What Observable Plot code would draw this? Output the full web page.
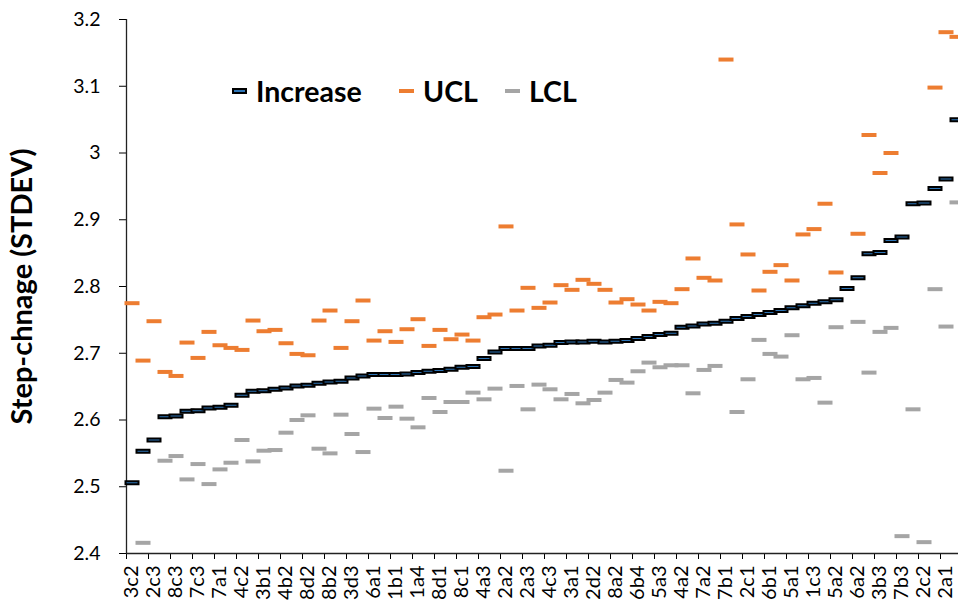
<!DOCTYPE html>
<html>
<head>
<meta charset="utf-8">
<script src="https://cdn.jsdelivr.net/npm/d3@7"></script>
<script src="https://cdn.jsdelivr.net/npm/@observablehq/plot@0.6"></script>
<style>
  html, body { margin: 0; padding: 0; background: #fff; overflow: hidden; }
  #chart { position: relative; width: 958px; height: 609px; overflow: hidden; }
  #legend { position: absolute; left: 0; top: 0; font-family: Lato, sans-serif; font-weight: bold; font-size: 28.5px; color: #000; }
  #legend .item { position: absolute; display: flex; align-items: center; white-space: nowrap; line-height: 1; }
  #legend .sw { display: inline-block; width: 15px; height: 4px; margin-right: 9px; box-sizing: border-box; }
</style>
</head>
<body>
<div id="chart"></div>
<script>
// Every other category is labelled on the x axis
const labels = ["3c2","2c3","8c3","7c3","7a1","4c2","3b1","4b2","8d2","8b2","3d3","6a1","1b1",
  "1a4","8d1","8c1","4a3","2a2","2a3","4c3","3a1","2d2","8a2","6b4","5a3","4a2","7a2","7b1",
  "2c1","6b1","5a1","1c3","5a2","6a2","3b3","7b3","2c2","2a1"];

// Step-change increase per category, sorted ascending
const increase = [2.506,2.553,2.570,2.605,2.606,2.613,2.614,2.618,2.619,2.622,
  2.637,2.643,2.644,2.646,2.648,2.651,2.652,2.655,2.657,2.658,
  2.663,2.666,2.668,2.668,2.668,2.669,2.671,2.673,2.674,2.676,
  2.679,2.680,2.692,2.702,2.707,2.707,2.707,2.711,2.712,2.716,
  2.717,2.717,2.718,2.717,2.718,2.719,2.722,2.725,2.728,2.730,
  2.739,2.741,2.744,2.745,2.748,2.752,2.755,2.758,2.761,2.764,
  2.768,2.771,2.775,2.777,2.780,2.797,2.813,2.849,2.851,2.869,
  2.874,2.924,2.925,2.947,2.961,3.050];

// Upper control limit (null where it lies above the axis range)
const ucl = [2.775,2.689,2.748,2.672,2.666,2.716,2.693,2.732,2.712,2.708,
  2.705,2.749,2.733,2.735,2.715,2.699,2.697,2.749,2.764,2.708,
  2.748,2.779,2.719,2.733,2.717,2.736,2.751,2.711,2.735,2.721,
  2.728,2.719,2.754,2.758,2.890,2.764,2.798,2.768,2.776,2.802,
  2.795,2.810,2.804,2.795,2.776,2.781,2.773,2.764,2.777,2.775,
  2.796,2.842,2.813,2.809,3.140,2.893,2.848,2.794,2.822,2.832,
  2.809,2.878,2.886,2.924,2.821,null,2.879,3.027,2.970,3.000,
  null,null,null,3.098,3.181,3.174];

// Lower control limit (null where it lies below the axis range)
const lcl = [null,2.416,null,2.539,2.546,2.511,2.534,2.504,2.526,2.536,
  2.570,2.538,2.554,2.555,2.581,2.600,2.607,2.557,2.550,2.608,
  2.579,2.552,2.617,2.603,2.620,2.602,2.589,2.633,2.612,2.627,
  2.627,2.641,2.631,2.647,2.524,2.651,2.616,2.653,2.646,2.631,
  2.639,2.625,2.630,2.641,2.660,2.656,2.673,2.686,2.679,2.682,
  2.682,2.640,2.675,2.681,null,2.612,2.661,2.720,2.699,2.695,
  2.727,2.661,2.663,2.626,2.739,null,2.747,2.671,2.732,2.738,
  2.426,2.616,2.417,2.796,2.740,2.926];

const yTicks = [2.4, 2.5, 2.6, 2.7, 2.8, 2.9, 3.0, 3.1, 3.2];
const yTitle = "Step-chnage (STDEV)";

const series = [
  {name: "Increase", fill: "#2e75b6", stroke: "#000"},
  {name: "UCL", fill: "#ed7d31", stroke: null},
  {name: "LCL", fill: "#a5a5a5", stroke: null}
];

const rows = increase.map((v, i) => ({i, inc: v, ucl: ucl[i], lcl: lcl[i]}));
const n = increase.length;
const even = d3.range(0, n, 2);

// Flat "dash" marker, drawn as a small rectangle centred on the point
const dash = (w, h) => ({
  draw(ctx) {
    ctx.moveTo(-w / 2, -h / 2);
    ctx.lineTo(w / 2, -h / 2);
    ctx.lineTo(w / 2, h / 2);
    ctx.lineTo(-w / 2, h / 2);
    ctx.closePath();
  }
});

const step = 11;          // pixels per category
const left = 126;         // left edge of the plotting area

const chart = Plot.plot({
  width: 958,
  height: 609,
  marginLeft: left,
  marginRight: 0,
  marginTop: 19,
  marginBottom: 56,
  style: {fontFamily: "Lato, sans-serif", fontSize: "19px", color: "#000", background: "#fff", overflow: "hidden"},
  x: {type: "linear", domain: [0, n], range: [left, left + n * step]},
  y: {domain: [2.4, 3.2]},
  marks: [
    Plot.axisY({ticks: yTicks, tickSize: 7, tickPadding: 19, tickFormat: d3.format(".1~f"), label: null, fontSize: 19.5}),
    Plot.axisX({ticks: even, tickSize: 6, tickFormat: () => "", label: null}),
    Plot.axisX({ticks: even.map(i => i + 0.5), tickSize: 0, tickPadding: 12, tickRotate: -90,
      tickFormat: d => labels[(d - 0.5) / 2], label: null, fontSize: 20}),
    Plot.ruleX([0], {stroke: "#222", strokeWidth: 1.3}),
    Plot.ruleY([2.4], {stroke: "#222", strokeWidth: 1.3}),
    Plot.text([yTitle], {frameAnchor: "left", textAnchor: "middle", dx: -104, rotate: -90, fontSize: 29, fontWeight: "bold", fill: "#000"}),
    Plot.dot(rows, {x: d => d.i + 0.5, y: "inc", symbol: dash(13, 3), fill: series[0].fill, stroke: series[0].stroke, strokeWidth: 2}),
    Plot.dot(rows, {x: d => d.i + 0.5, y: "ucl", symbol: dash(15, 4), fill: series[1].fill, stroke: null}),
    Plot.dot(rows, {x: d => d.i + 0.5, y: "lcl", symbol: dash(15, 4), fill: series[2].fill, stroke: null})
  ]
});

const host = document.getElementById("chart");
host.appendChild(chart);

// Legend placed inside the plotting area
const legend = document.createElement("div");
legend.id = "legend";
const legendX = [232, 399, 505];
series.forEach((s, k) => {
  const item = document.createElement("div");
  item.className = "item";
  item.style.left = legendX[k] + "px";
  item.style.top = "77px";
  const sw = document.createElement("span");
  sw.className = "sw";
  sw.style.background = s.fill;
  if (s.stroke) { sw.style.border = "2px solid " + s.stroke; sw.style.height = "6px"; }
  const tx = document.createElement("span");
  tx.textContent = s.name;
  item.appendChild(sw);
  item.appendChild(tx);
  legend.appendChild(item);
});
host.appendChild(legend);
</script>
</body>
</html>
